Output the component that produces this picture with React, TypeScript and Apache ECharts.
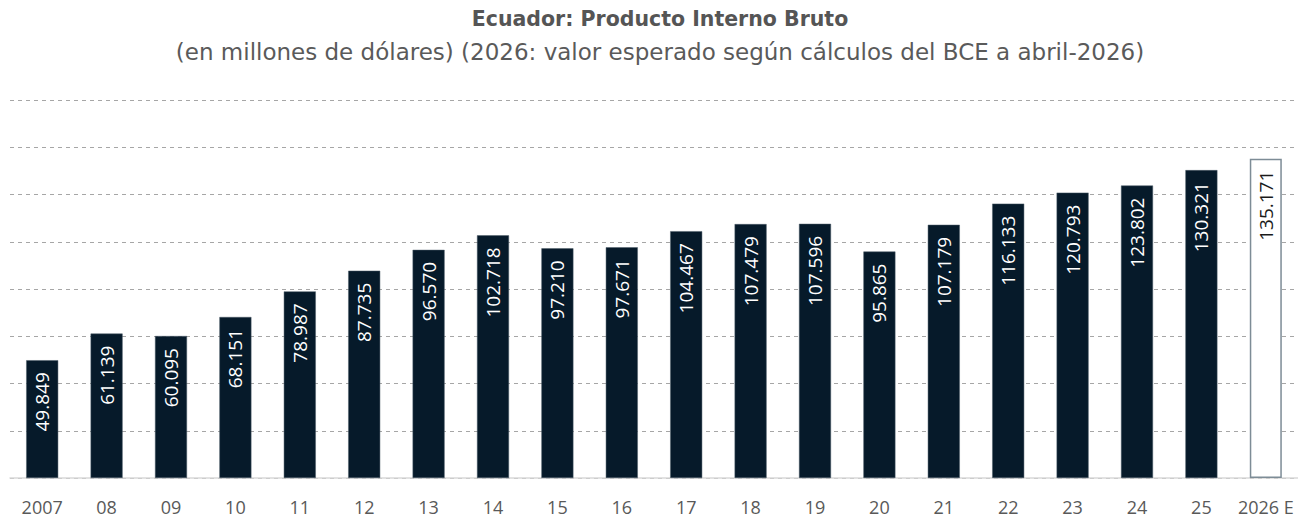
import React, { useEffect, useRef } from "react";
import * as echarts from "echarts";

const categories = ["2007", "08", "09", "10", "11", "12", "13", "14", "15", "16", "17", "18", "19", "20", "21", "22", "23", "24", "25", "2026 E"];
const gdpValues = [49.849, 61.139, 60.095, 68.151, 78.987, 87.735, 96.57, 102.718, 97.21, 97.671, 104.467, 107.479, 107.596, 95.865, 107.179, 116.133, 120.793, 123.802, 130.321, 135.171];
const estimatedIndex = 19;

const TITLE = "Ecuador: Producto Interno Bruto";
const SUBTITLE = "(en millones de dólares) (2026: valor esperado según cálculos del BCE a abril-2026)";

export default function App() {
  const ref = useRef<HTMLDivElement>(null);
  useEffect(() => {
    if (!ref.current) return;
    const chart = echarts.init(ref.current, null, { renderer: "svg" });
    const data = gdpValues.map((v, i) =>
      i === estimatedIndex
        ? {
            value: v,
            itemStyle: { color: "#ffffff", borderColor: "#7d8c96", borderWidth: 1.5 },
            label: { color: "#1a1a1a" },
          }
        : { value: v }
    );
    chart.setOption({
      animation: false,
      backgroundColor: "#ffffff",
      title: [
        {
          text: TITLE,
          left: 655,
          top: 3,
          textAlign: "center",
          textStyle: { fontFamily: "DejaVu Sans", fontWeight: "bold", fontSize: 20.5, color: "#555555" },
        },
        {
          text: SUBTITLE,
          left: 655,
          top: 35,
          textAlign: "center",
          textStyle: { fontFamily: "DejaVu Sans", fontWeight: "normal", fontSize: 23, color: "#5a5a5a" },
        },
      ],
      grid: { left: 10, top: 100, width: 1290, height: 378, containLabel: false },
      xAxis: {
        type: "category",
        data: categories,
        axisLine: { show: true, lineStyle: { color: "#d9d9d9", width: 1.5 } },
        axisTick: { show: false },
        axisLabel: { fontFamily: "Open Sans", fontSize: 18, color: "#595959", margin: 20, interval: 0 },
      },
      yAxis: {
        type: "value",
        min: 0,
        max: 160,
        interval: 20,
        axisLabel: { show: false },
        axisLine: { show: false },
        axisTick: { show: false },
        splitLine: { show: true, lineStyle: { color: "#a6a6a6", type: [4, 4], width: 1 } },
      },
      series: [
        {
          type: "bar",
          data,
          barWidth: 32,
          itemStyle: { color: "#061a2a", borderColor: "#4d5c68", borderWidth: 0.5 },
          label: {
            show: true,
            position: "insideTop",
            rotate: 90,
            align: "right",
            verticalAlign: "middle",
            distance: 12,
            color: "#ffffff",
            fontFamily: "Open Sans",
            fontSize: 19,
            formatter: (p: any) => Number(p.value).toFixed(3),
          },
        },
      ],
    });
    return () => chart.dispose();
  }, []);
  return <div ref={ref} style={{ position: "fixed", left: 0, top: 0, width: 1298, height: 521 }} />;
}
